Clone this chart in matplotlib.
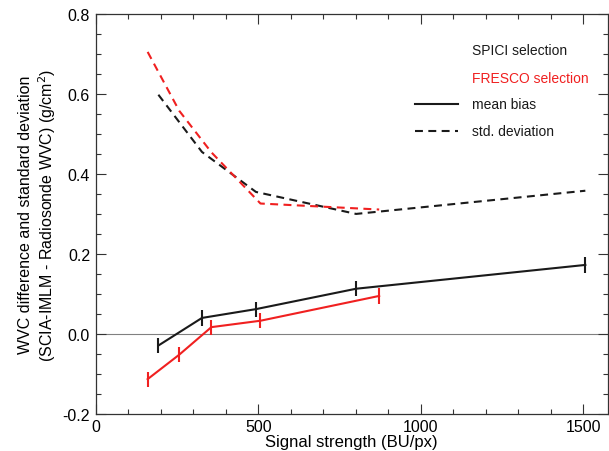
import matplotlib
matplotlib.use("Agg")
import matplotlib.pyplot as plt
from matplotlib.ticker import MultipleLocator, FormatStrFormatter

plt.rcParams['font.family'] = ['Liberation Sans', 'DejaVu Sans']

# SPICI selection (black)
spici_x = [193, 327, 493, 801, 1506]
spici_bias = [-0.029, 0.040, 0.062, 0.113, 0.1725]
spici_err = [0.019, 0.019, 0.019, 0.019, 0.019]
spici_std = [0.598, 0.455, 0.355, 0.300, 0.358]

# FRESCO selection (red)
fresco_x = [160, 257, 356, 507, 872]
fresco_bias = [-0.113, -0.052, 0.017, 0.033, 0.095]
fresco_err = [0.019, 0.019, 0.019, 0.019, 0.019]
fresco_std = [0.705, 0.558, 0.454, 0.326, 0.311]

xticks = [0, 500, 1000, 1500]
yticks = [-0.2, 0.0, 0.2, 0.4, 0.6, 0.8]

BLACK = '#1a1a1a'
RED = '#f02020'

fig = plt.figure(figsize=(6.09, 4.52), dpi=100)
ax = fig.add_axes([0.157, 0.082, 0.841, 0.885])

ax.axhline(0, color='#808080', lw=0.8, zorder=1)

dash = (0, (3.8, 2.6))
ax.plot(spici_x, spici_std, color=BLACK, lw=1.5, linestyle=dash)
ax.plot(fresco_x, fresco_std, color=RED, lw=1.5, linestyle=dash)

ax.errorbar(spici_x, spici_bias, yerr=spici_err, color=BLACK, lw=1.5,
            elinewidth=1.5, capsize=0)
ax.errorbar(fresco_x, fresco_bias, yerr=fresco_err, color=RED, lw=1.5,
            elinewidth=1.5, capsize=0)

ax.set_xlim(0, 1575)
ax.set_ylim(-0.2, 0.8)
ax.set_xticks(xticks)
ax.set_yticks(yticks)
ax.xaxis.set_minor_locator(MultipleLocator(100))
ax.yaxis.set_minor_locator(MultipleLocator(0.05))
ax.yaxis.set_major_formatter(FormatStrFormatter('%.1f'))
ax.tick_params(which='both', direction='in', top=True, right=True,
               labelsize=11.5, color='#333333', width=0.8, pad=4)
ax.tick_params(which='major', length=7)
ax.tick_params(which='minor', length=3.6)
for s in ax.spines.values():
    s.set_color('#333333')
    s.set_linewidth(0.9)

ax.set_xlabel('Signal strength (BU/px)', fontsize=12, labelpad=0)
ax.set_ylabel('WVC difference and standard deviation\n(SCIA-IMLM - Radiosonde WVC) (g/cm$^2$)',
              fontsize=11.5, labelpad=3, linespacing=1.25)

# legend (manual, as in reference)
tx = 0.734
ax.text(tx, 0.909, 'SPICI selection', transform=ax.transAxes, color=BLACK,
        fontsize=10, va='center', ha='left')
ax.text(tx, 0.841, 'FRESCO selection', transform=ax.transAxes, color=RED,
        fontsize=10, va='center', ha='left')
ax.text(tx, 0.774, 'mean bias', transform=ax.transAxes, color=BLACK,
        fontsize=10, va='center', ha='left')
ax.text(tx, 0.708, 'std. deviation', transform=ax.transAxes, color=BLACK,
        fontsize=10, va='center', ha='left')
ax.plot([0.624, 0.707], [0.774, 0.774], transform=ax.transAxes, color=BLACK, lw=1.5)
ax.plot([0.624, 0.707], [0.708, 0.708], transform=ax.transAxes, color=BLACK, lw=1.5,
        linestyle=dash)

fig.savefig('out.png', dpi=100)
